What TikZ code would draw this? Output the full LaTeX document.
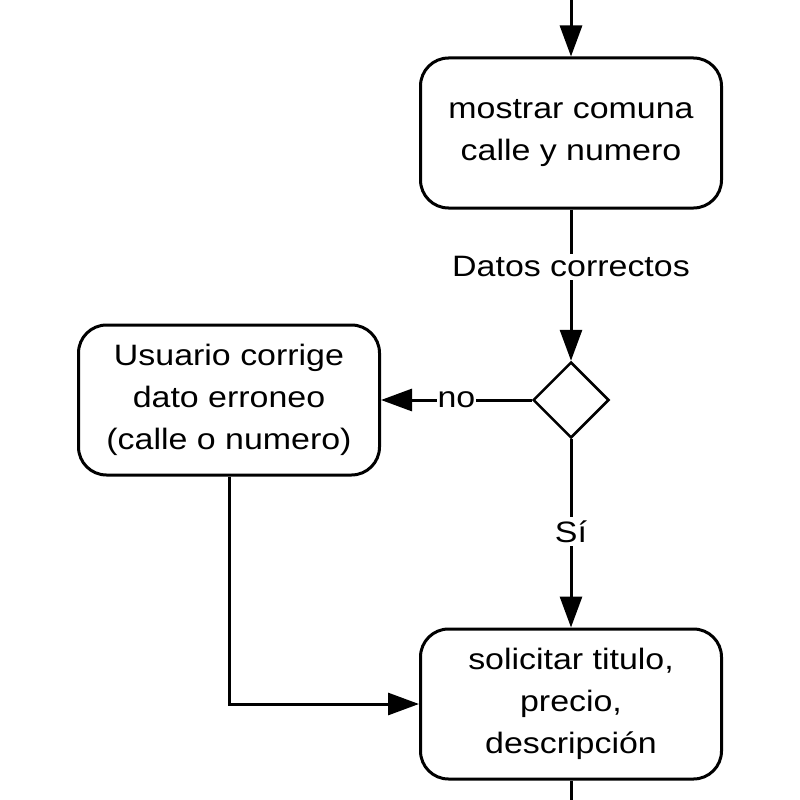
\documentclass[tikz,border=0pt]{standalone}
\usepackage{fontspec}
\setmainfont{Liberation Sans}[FakeStretch=1.15]
\usetikzlibrary{arrows.meta,shapes.geometric}
\begin{document}
\begin{tikzpicture}[x=1pt,y=-1pt,
  box/.style={draw, line width=3pt, rounded corners=28pt, minimum width=301pt, minimum height=150pt, align=center, inner sep=0pt, font=\fontsize{29.5}{42}\selectfont},
  dec/.style={draw, diamond, line width=2.5pt, minimum width=76pt, minimum height=76pt, inner sep=0pt},
  conn/.style={line width=3pt},
  arr/.style={conn, -{Triangle[length=31pt,width=22pt]}},
  lbl/.style={fill=white, inner sep=3pt, font=\fontsize{29.5}{36}\selectfont}]
\useasboundingbox (0,0) rectangle (800,800);
\fill[white] (0,0) rectangle (800,800);
\coordinate (top) at (571,0);
\node[box] (b1) at (571,133) {mostrar comuna\\calle y numero};
\node[dec] (d) at (571,400) {};
\node[box] (b2) at (229,400) {Usuario corrige\\dato erroneo\\(calle o numero)};
\node[box] (b3) at (571,704) {solicitar titulo,\\precio,\\descripción};
\coordinate (bot) at (571,800);
\draw[arr] (top) -- (b1);
\draw[arr] (b1) -- node[lbl, pos=0.38]{Datos correctos} (d);
\draw[arr] (d) -- node[lbl, inner sep=1pt]{no} (b2);
\draw[arr] (d) -- node[lbl, pos=0.49]{Sí} (b3);
\draw[arr] (b2) |- (b3);
\draw[conn] (b3) -- (bot);
\end{tikzpicture}
\end{document}
